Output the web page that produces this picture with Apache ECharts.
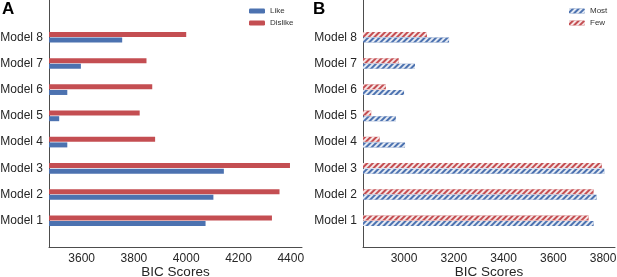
<!DOCTYPE html>
<html>
<head>
<meta charset="utf-8">
<script src="https://cdn.jsdelivr.net/npm/echarts@6/dist/echarts.min.js"></script>
<style>
  html, body { margin: 0; padding: 0; background: #fff; }
  #chart { width: 617px; height: 277px; }
</style>
</head>
<body>
<div id="chart"></div>
<script>
const models = ['Model 1', 'Model 2', 'Model 3', 'Model 4', 'Model 5', 'Model 6', 'Model 7', 'Model 8']

// panel A
const likeScores = [4074, 4104, 4144, 3545, 3514, 3545, 3597, 3755]
const dislikeScores = [4328, 4357, 4397, 3881, 3822, 3870, 3848, 4000]

// panel B
const mostScores = [3762, 3774, 3805, 3004, 2967, 3000, 3044, 3181]
const fewScores = [3742, 3762, 3795, 2902, 2868, 2927, 2979, 3092]

const blue = '#4c72b0'
const red = '#c44e52'
const font = '"Liberation Sans", Arial, sans-serif'
const ink = '#262626'

const hatch = {
  symbol: 'rect',
  symbolSize: 1,
  color: 'rgba(255,255,255,0.85)',
  dashArrayX: [1, 0],
  dashArrayY: [1.1, 1.8],
  rotation: -Math.PI / 4,
}

// one empty slot below Model 1 and above Model 8
const cats = [' ', ...models, '  ']
const pad = (arr) => [null, ...arr, null]

const chart = echarts.init(document.getElementById('chart'))

const tickFmt = (v) => (v % 200 === 0 ? String(v) : '')

function valueAxis(gridIndex, min, max) {
  return {
    type: 'value',
    gridIndex,
    min,
    max,
    name: 'BIC Scores',
    nameLocation: 'middle',
    nameGap: 18,
    nameMoveOverlap: false,
    nameTextStyle: { fontFamily: font, fontSize: 13.5, color: ink },
    axisLine: { show: true, lineStyle: { color: '#4d4d4d', width: 1 } },
    axisTick: { show: false },
    splitLine: { show: false },
    axisLabel: {
      formatter: tickFmt,
      showMinLabel: false,
      showMaxLabel: false,
      margin: 6,
      fontFamily: font,
      fontSize: 12,
      color: ink,
    },
  }
}

function catAxis(gridIndex) {
  return {
    type: 'category',
    gridIndex,
    data: cats,
    boundaryGap: false,
    axisLine: { show: false },
    axisTick: { show: false },
    splitLine: { show: false },
    axisLabel: {
      interval: 0,
      margin: 6,
      fontFamily: font,
      fontSize: 12,
      color: ink,
    },
  }
}

function spineAxis(gridIndex) {
  return {
    type: 'value',
    gridIndex,
    min: 0,
    max: 1,
    axisLine: { show: true, onZero: false, lineStyle: { color: '#4d4d4d', width: 1 } },
    axisTick: { show: false },
    axisLabel: { show: false },
    splitLine: { show: false },
  }
}

function hiddenX(gridIndex) {
  return { type: 'value', gridIndex, show: false, min: 0, max: 1 }
}

function bars(name, data, color, axisIndex, decal) {
  return {
    name,
    type: 'bar',
    xAxisIndex: axisIndex,
    yAxisIndex: axisIndex,
    data: pad(data),
    barWidth: 5,
    barGap: '12%',
    itemStyle: decal ? { color, decal } : { color },
    emphasis: { disabled: true },
  }
}

function legend(names, left) {
  return {
    data: names,
    orient: 'vertical',
    left,
    top: 7,
    padding: 0,
    itemWidth: 16,
    itemHeight: 5,
    itemGap: 4,
    textStyle: { fontFamily: font, fontSize: 8, color: '#333' },
  }
}

const letter = (text, left) => ({
  text,
  left,
  top: 1,
  padding: 0,
  textStyle: { fontFamily: font, fontSize: 17, fontWeight: 'bold', color: '#000' },
})

chart.setOption({
  animation: false,
  backgroundColor: '#fff',
  title: [letter('A', 2), letter('B', 313)],
  legend: [legend(['Like', 'Dislike'], 249), legend(['Most', 'Few'], 569)],
  grid: [
    { left: 49, right: 315, top: 11, bottom: 30, outerBoundsMode: 'none' },
    { left: 363, right: 2, top: 11, bottom: 30, outerBoundsMode: 'none' },
    { left: 49, width: 10, top: 0, bottom: 30, outerBoundsMode: 'none' },
    { left: 363, width: 10, top: 0, bottom: 30, outerBoundsMode: 'none' },
  ],
  xAxis: [valueAxis(0, 3475, 4443), valueAxis(1, 2835, 3848), hiddenX(2), hiddenX(3)],
  yAxis: [catAxis(0), catAxis(1), spineAxis(2), spineAxis(3)],
  series: [
    bars('Dislike', dislikeScores, red, 0),
    bars('Like', likeScores, blue, 0),
    bars('Few', fewScores, red, 1, hatch),
    bars('Most', mostScores, blue, 1, hatch),
  ],
})
</script>
</body>
</html>
